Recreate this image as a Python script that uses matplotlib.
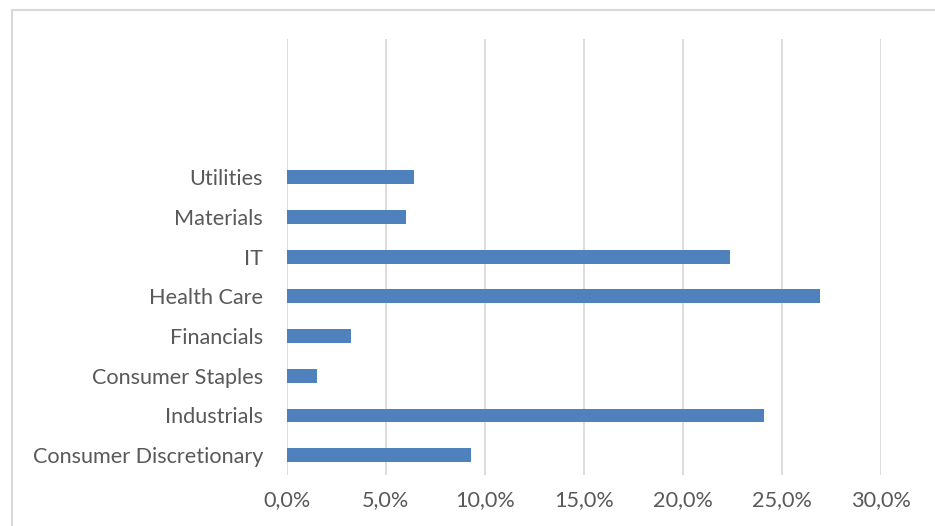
import matplotlib
matplotlib.use("Agg")
import matplotlib.pyplot as plt
from matplotlib.ticker import FuncFormatter
from matplotlib.lines import Line2D

categories = ["Consumer Discretionary", "Industrials", "Consumer Staples", "Financials",
              "Health Care", "IT", "Materials", "Utilities"]
values = [9.3, 24.1, 1.55, 3.25, 26.95, 22.4, 6.05, 6.45]
xticks = [0, 5, 10, 15, 20, 25, 30]

W, H = 935, 526
fig = plt.figure(figsize=(W / 100, H / 100), dpi=100)
fig.patch.set_facecolor("white")

ax = fig.add_axes([286.5 / W, 1 - 475 / H, (880.7 - 286.5) / W, (475 - 38.5) / H])
ypos = list(range(len(categories)))
ax.barh(ypos, values, height=0.35, color="#4f81bd", zorder=3)
ax.set_ylim(-0.5, 10.5)
ax.set_xlim(0, 30)
ax.set_xticks(xticks)
ax.xaxis.set_major_formatter(FuncFormatter(lambda v, p: f"{v:.1f}%".replace(".", ",")))
ax.set_yticks(ypos)
ax.set_yticklabels(categories)
ax.grid(axis="x", color="#d9d9d9", linewidth=1.3, zorder=0)
for s in ax.spines.values():
    s.set_visible(False)
ax.tick_params(axis="both", length=0, colors="#595959")
ax.tick_params(axis="y", pad=17)
ax.tick_params(axis="x", pad=11)

fam = ["Lato", "DejaVu Sans"]
for lab in ax.get_yticklabels() + ax.get_xticklabels():
    lab.set_family(fam)
    lab.set_fontsize(15.6)
    lab.set_color("#595959")

# frame of chart area
fig.add_artist(Line2D([11.5 / W, 11.5 / W], [0, 1 - 9.5 / H], color="#d9d9d9", lw=1.5,
                      transform=fig.transFigure))
fig.add_artist(Line2D([11.5 / W, 1], [1 - 9.5 / H, 1 - 9.5 / H], color="#d9d9d9", lw=1.5,
                      transform=fig.transFigure))

fig.savefig("out.png", dpi=100)
